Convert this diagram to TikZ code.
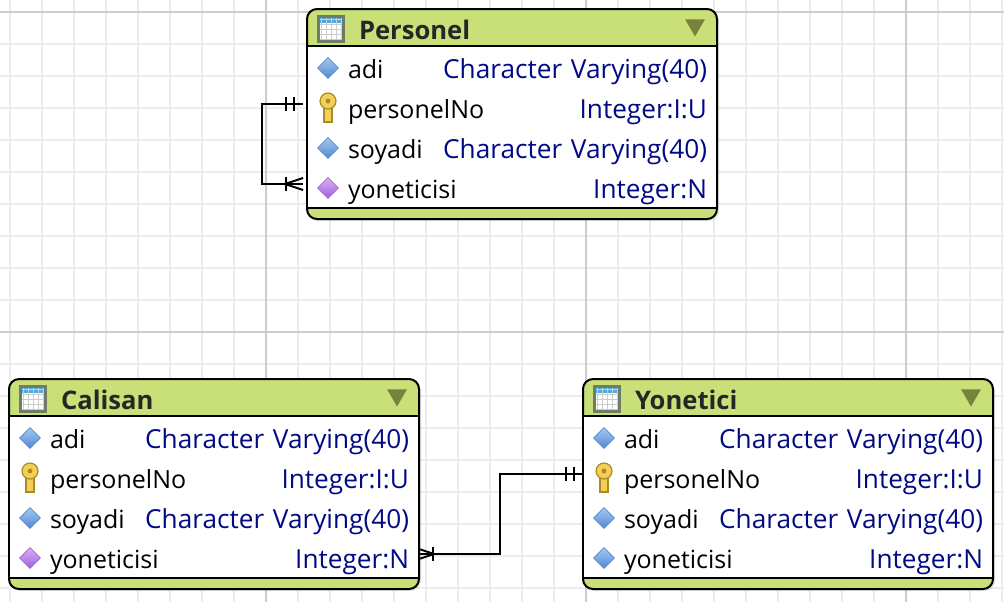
\documentclass[tikz,border=0pt]{standalone}
\usepackage{fontspec}
\setmainfont{Open Sans}
\usetikzlibrary{shapes.geometric, shadows}
\definecolor{headergreen}{HTML}{C8E077}
\definecolor{minorline}{HTML}{EDEDED}
\definecolor{majorline}{HTML}{CCCCCC}
\definecolor{typeblue}{HTML}{000A85}
\definecolor{titleblack}{HTML}{262626}
\definecolor{arrowolive}{HTML}{78823C}
\definecolor{iconborder}{HTML}{6F7D66}
\definecolor{iconblue}{HTML}{4FA9DF}
\definecolor{keygold}{HTML}{F3CF55}
\definecolor{keyedge}{HTML}{A88A28}
\definecolor{plaintop}{HTML}{A6CAF2}
\definecolor{plainbottom}{HTML}{4F87CF}
\definecolor{foreigntop}{HTML}{DDB0F5}
\definecolor{foreignbottom}{HTML}{9F5FD8}

% bars of the "one" end, #2 gives the side the line comes from
\newcommand{\oneend}[2]{
	\draw [link] ([shift={(#2*9,-7)}]#1) -- ++(0,14);
	\draw [link] ([shift={(#2*17,-7)}]#1) -- ++(0,14);
}
% bar and foot of the "many" end
\newcommand{\manyend}[2]{
	\draw [link] ([shift={(#2*17,-7)}]#1) -- ++(0,14);
	\draw [link] ([yshift=3pt]#1) -- ([shift={(#2*18,0)}]#1) -- ([yshift=-3pt]#1);
}

\begin{document}
\begin{tikzpicture}[x=0.5pt, y=-0.5pt, node distance=20pt]
	\tikzstyle{link} = [line width=1pt, black]
	\tikzstyle{entity} = [rectangle, rounded corners=5pt, minimum width=205pt, minimum height=105pt, inner sep=0pt, draw=black, line width=1pt, fill=headergreen, drop shadow={opacity=0.2, shadow xshift=1pt, shadow yshift=-1pt}]
	\tikzstyle{entitybody} = [rectangle, minimum width=205pt, minimum height=81pt, inner sep=0pt, draw=black, line width=1pt, fill=white]
	\tikzstyle{title} = [inner sep=0pt, text width=100pt, align=left, text height=10pt, text depth=0pt, font=\fontsize{12.8}{15}\selectfont\bfseries, text=titleblack]
	\tikzstyle{fieldname} = [node distance=60pt, inner sep=0pt, text width=100pt, align=left, text height=10pt, text depth=0pt, font=\fontsize{12.5}{15}\selectfont, text=black]
	\tikzstyle{fieldtype} = [node distance=109.5pt, inner sep=0pt, text width=160pt, align=right, text height=10pt, text depth=0pt, font=\fontsize{13.1}{15}\selectfont, text=typeblue]
	\tikzstyle{plainicon} = [diamond, minimum size=10.5pt, inner sep=0pt, top color=plaintop, bottom color=plainbottom, draw=plainbottom, line width=0.3pt]
	\tikzstyle{foreignicon} = [diamond, minimum size=10.5pt, inner sep=0pt, top color=foreigntop, bottom color=foreignbottom, draw=foreignbottom, line width=0.3pt]
	\tikzstyle{keyicon} = [rectangle, minimum width=11pt, minimum height=16pt, inner sep=0pt, path picture={
		\begin{scope}[shift={(path picture bounding box.center)}]
			\filldraw [fill=keygold, draw=keyedge, line width=0.6pt] (-4,-1) rectangle (4,14);
			\filldraw [fill=keygold, draw=keyedge, line width=0.6pt] (0,-7) circle (8);
			\fill [keyedge] (0,-7) circle (2.4);
		\end{scope}}]
	\tikzstyle{tableicon} = [rectangle, minimum size=12.5pt, inner sep=0pt, draw=iconborder, line width=1.2pt, fill=white, path picture={
		\begin{scope}[shift={(path picture bounding box.center)}]
			\fill [iconblue] (-12,-12) rectangle (12,-6);
			\draw [black!20, line width=0.3pt, step=2.5pt] (-12,-12) grid (12,12);
		\end{scope}}]
	\tikzstyle{menuicon} = [regular polygon, regular polygon sides=3, shape border rotate=180, minimum size=11.5pt, inner sep=0pt, fill=arrowolive]

	\useasboundingbox (0,0) rectangle (1004,602);

	% grid
	\begin{scope}[shift={(266,12)}]
		\draw [minorline, line width=1pt, step=16pt] (-266,-12) grid (738,590);
		\draw [majorline, line width=1pt, step=160pt] (-266,-12) grid (738,590);
	\end{scope}

	% connectors, under the tables
	\coordinate (personelNoEnd) at (303,104);
	\coordinate (personelFkEnd) at (303,184);
	\coordinate (calisanFkEnd) at (416,554);
	\coordinate (yoneticiNoEnd) at (583,474);
	\coordinate (calisanBend) at (500,514);
	\draw [link] (personelNoEnd) -- ++(-41,0) |- (personelFkEnd);
	\oneend{personelNoEnd}{-1}
	\manyend{personelFkEnd}{-1}
	\draw [link] (calisanFkEnd) -| (calisanBend) |- (yoneticiNoEnd);
	\oneend{yoneticiNoEnd}{-1}
	\manyend{calisanFkEnd}{1}

	% Personel
	\node (personel) [entity] at (512,114) {};
	\node (personelBody) [entitybody] at (512,127) {};
	\node (personelIcon) [tableicon] at (331,29) {};
	\node (personelTitle) [title] at (459,29) {Personel};
	\node (personelMenu) [menuicon] at (695,25) {};
	\node (personelAdiIcon) [plainicon] at (328,68) {};
	\node (personelNoIcon) [keyicon, below of=personelAdiIcon] {};
	\node (personelSoyadiIcon) [plainicon, below of=personelNoIcon] {};
	\node (personelFkIcon) [foreignicon, below of=personelSoyadiIcon] {};
	\node (personelAdi) [fieldname, right of=personelAdiIcon] {adi};
	\node (personelNo) [fieldname, right of=personelNoIcon] {personelNo};
	\node (personelSoyadi) [fieldname, right of=personelSoyadiIcon] {soyadi};
	\node (personelFk) [fieldname, right of=personelFkIcon] {yoneticisi};
	\node (personelAdiType) [fieldtype, right of=personelAdiIcon] {Character Varying(40)};
	\node (personelNoType) [fieldtype, right of=personelNoIcon] {Integer:I:U};
	\node (personelSoyadiType) [fieldtype, right of=personelSoyadiIcon] {Character Varying(40)};
	\node (personelFkType) [fieldtype, right of=personelFkIcon] {Integer:N};

	% Calisan
	\node (calisan) [entity] at (214,484) {};
	\node (calisanBody) [entitybody] at (214,497) {};
	\node (calisanIcon) [tableicon] at (33,399) {};
	\node (calisanTitle) [title] at (161,399) {Calisan};
	\node (calisanMenu) [menuicon] at (397,395) {};
	\node (calisanAdiIcon) [plainicon] at (30,438) {};
	\node (calisanNoIcon) [keyicon, below of=calisanAdiIcon] {};
	\node (calisanSoyadiIcon) [plainicon, below of=calisanNoIcon] {};
	\node (calisanFkIcon) [foreignicon, below of=calisanSoyadiIcon] {};
	\node (calisanAdi) [fieldname, right of=calisanAdiIcon] {adi};
	\node (calisanNo) [fieldname, right of=calisanNoIcon] {personelNo};
	\node (calisanSoyadi) [fieldname, right of=calisanSoyadiIcon] {soyadi};
	\node (calisanFk) [fieldname, right of=calisanFkIcon] {yoneticisi};
	\node (calisanAdiType) [fieldtype, right of=calisanAdiIcon] {Character Varying(40)};
	\node (calisanNoType) [fieldtype, right of=calisanNoIcon] {Integer:I:U};
	\node (calisanSoyadiType) [fieldtype, right of=calisanSoyadiIcon] {Character Varying(40)};
	\node (calisanFkType) [fieldtype, right of=calisanFkIcon] {Integer:N};

	% Yonetici
	\node (yonetici) [entity] at (788,484) {};
	\node (yoneticiBody) [entitybody] at (788,497) {};
	\node (yoneticiIcon) [tableicon] at (607,399) {};
	\node (yoneticiTitle) [title] at (735,399) {Yonetici};
	\node (yoneticiMenu) [menuicon] at (971,395) {};
	\node (yoneticiAdiIcon) [plainicon] at (604,438) {};
	\node (yoneticiNoIcon) [keyicon, below of=yoneticiAdiIcon] {};
	\node (yoneticiSoyadiIcon) [plainicon, below of=yoneticiNoIcon] {};
	\node (yoneticiFkIcon) [plainicon, below of=yoneticiSoyadiIcon] {};
	\node (yoneticiAdi) [fieldname, right of=yoneticiAdiIcon] {adi};
	\node (yoneticiNo) [fieldname, right of=yoneticiNoIcon] {personelNo};
	\node (yoneticiSoyadi) [fieldname, right of=yoneticiSoyadiIcon] {soyadi};
	\node (yoneticiFk) [fieldname, right of=yoneticiFkIcon] {yoneticisi};
	\node (yoneticiAdiType) [fieldtype, right of=yoneticiAdiIcon] {Character Varying(40)};
	\node (yoneticiNoType) [fieldtype, right of=yoneticiNoIcon] {Integer:I:U};
	\node (yoneticiSoyadiType) [fieldtype, right of=yoneticiSoyadiIcon] {Character Varying(40)};
	\node (yoneticiFkType) [fieldtype, right of=yoneticiFkIcon] {Integer:N};
\end{tikzpicture}
\end{document}
